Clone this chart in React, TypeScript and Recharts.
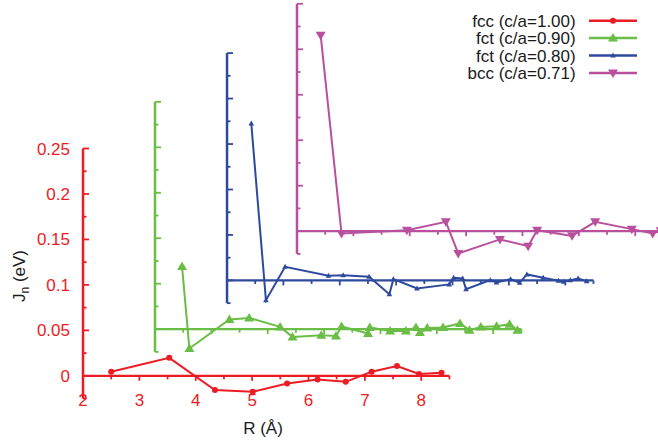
import React from 'react';
import { ComposedChart, Line, XAxis, YAxis, ReferenceLine, Legend } from 'recharts';

const FONT = '"Liberation Sans", Arial, Helvetica, sans-serif';

// R (Å) and J_n (eV) for each structure (own axes, before offset)
const fccR = [2.50, 3.53, 4.34, 5.01, 5.62, 6.16, 6.66, 7.12, 7.57, 7.96, 8.36];
const fccJ = [0.0044, 0.0198, -0.0157, -0.0176, -0.0084, -0.004, -0.0066, 0.0044, 0.0107, 0.002, 0.0033];

const fct90R = [2.48, 2.61, 3.32, 3.67, 4.22, 4.44, 4.95, 5.21, 5.31, 5.78, 5.81, 6.17, 6.45, 6.63, 6.70, 6.83, 7.11, 7.41, 7.58, 7.78, 8.06, 8.29, 8.43];
const fct90J = [0.069, -0.0212, 0.0107, 0.0124, 0.0025, -0.0085, -0.0066, -0.0074, 0.003, -0.0047, 0.0019, -0.0019, -0.0019, 0.0019, -0.0036, 0.0014, 0.0019, 0.0063, -0.0011, 0.0025, 0.0033, 0.0055, -0.0011];

const fct80R = [2.43, 2.69, 3.03, 3.80, 4.06, 4.52, 4.88, 4.95, 5.37, 5.94, 6.02, 6.18, 6.24, 6.67, 6.78, 7.03, 7.19, 7.32, 7.61, 7.88, 7.97, 8.09, 8.23, 8.38];
const fct80J = [0.1727, -0.0217, 0.015, 0.0051, 0.0058, 0.004, -0.0151, 0.0014, -0.0088, -0.0044, 0.0029, 0.0022, -0.0096, 0.0003, -0.0022, 0.0014, -0.0026, 0.0066, 0.0029, -0.0004, -0.0015, 0.0003, 0.0022, -0.0008];

const bccR = [2.42, 2.79, 3.95, 4.64, 4.86, 5.60, 6.10, 6.26, 6.88, 7.29, 7.94, 8.31, 8.45];
const bccJ = [0.2155, -0.0025, 0.0011, 0.0102, -0.0245, -0.0091, -0.0165, 0.0011, -0.0052, 0.0102, 0.0022, -0.0025, 0.0005];

const seriesNames = ['fcc (c/a=1.00)', 'fct (c/a=0.90)', 'fct (c/a=0.80)', 'bcc (c/a=0.71)'];
const seriesColors = ['#ec1c24', '#6abd45', '#2e4a9e', '#b9509e'];
// each curve is shifted right and up so the panels stack
const shiftR = [0, 1.277, 2.555, 3.796];
const shiftJ = [0, 0.0513, 0.1049, 0.1591];

const xTicks = [2, 3, 4, 5, 6, 7, 8];
const yTicks = [0, 0.05, 0.1, 0.15, 0.2, 0.25];

const X_DOMAIN: [number, number] = [2, 12.2];
const Y_DOMAIN: [number, number] = [-0.02, 0.41];
const AXIS_J = [-0.025, 0.25];
const AXIS_R = [2, 8.5];

const rawSeries = [
  { R: fccR, J: fccJ },
  { R: fct90R, J: fct90J },
  { R: fct80R, J: fct80J },
  { R: bccR, J: bccJ },
];
const seriesData = rawSeries.map((s, i) =>
  s.R.map((r, k) => ({ x: r + shiftR[i], y: s.J[k] + shiftJ[i] }))
);

const markers = [
  (cx: number, cy: number, c: string) => <circle cx={cx} cy={cy} r={3} fill={c} />,
  (cx: number, cy: number, c: string) => (
    <polygon points={`${cx},${cy - 5} ${cx - 5},${cy + 3.5} ${cx + 5},${cy + 3.5}`} fill={c} />
  ),
  (cx: number, cy: number, c: string) => (
    <polygon points={`${cx},${cy - 3} ${cx - 2.8},${cy + 2} ${cx + 2.8},${cy + 2}`} fill={c} />
  ),
  (cx: number, cy: number, c: string) => (
    <polygon points={`${cx},${cy + 5} ${cx - 5},${cy - 3.5} ${cx + 5},${cy - 3.5}`} fill={c} />
  ),
];

// vertical axis with ticks every 0.025 (longer on multiples of 0.05)
const vAxisShape = (color: string) => (p: any) => {
  const { x1, y1, x2, y2 } = p;
  const n = Math.round((AXIS_J[1] - AXIS_J[0]) / 0.025);
  const ticks = [];
  for (let k = 0; k <= n; k++) {
    const y = y1 + ((y2 - y1) * k) / n;
    const v = AXIS_J[0] + k * 0.025;
    const major = Math.abs(v / 0.05 - Math.round(v / 0.05)) < 1e-6;
    ticks.push(<line key={k} x1={x1} x2={x1 + (major ? 6 : 3.5)} y1={y} y2={y} strokeWidth={1.8} />);
  }
  return (
    <g stroke={color}>
      <line x1={x1} y1={y1} x2={x2} y2={y2} strokeWidth={2.5} />
      {ticks}
    </g>
  );
};

// horizontal baseline with ticks every 0.5 Å
const hAxisShape = (color: string) => (p: any) => {
  const { x1, y1, x2, y2 } = p;
  const n = Math.round((AXIS_R[1] - AXIS_R[0]) / 0.5);
  const ticks = [];
  for (let k = 0; k <= n; k++) {
    const x = x1 + ((x2 - x1) * k) / n;
    ticks.push(<line key={k} x1={x} x2={x} y1={y1} y2={y1 + (k % 2 === 0 ? 5 : 3.5)} strokeWidth={1.8} />);
  }
  return (
    <g stroke={color}>
      <line x1={x1} y1={y1} x2={x2} y2={y2} strokeWidth={2.2} />
      {ticks}
    </g>
  );
};

const renderLegend = () => (
  <svg width={215} height={85} style={{ display: 'block' }}>
    {seriesNames.map((name, i) => {
      const cy = 20.7 + 17.4 * i;
      const c = seriesColors[i];
      return (
        <g key={name}>
          <text x={135.7} y={cy + 6} textAnchor="end" fontSize={17} fill="#1a1a1a" fontFamily={FONT}>
            {name}
          </text>
          <line x1={149} x2={197} y1={cy} y2={cy} stroke={c} strokeWidth={2.5} />
          {markers[i](173, cy, c)}
        </g>
      );
    })}
  </svg>
);

const XTitle = () => (
  <text x={263} y={434} textAnchor="middle" fontSize={17} fill="#1a1a1a" fontFamily={FONT}>
    R (Å)
  </text>
);

const YTitle = () => (
  <text x={25} y={276} transform="rotate(-90 25 276)" textAnchor="middle" fontSize={17} fill="#1a1a1a" fontFamily={FONT}>
    J<tspan fontSize={12} dy={4}>n</tspan>
    <tspan dy={-4}> (eV)</tspan>
  </text>
);

export default function App() {
  return (
    <div style={{ position: 'absolute', left: 0, top: 0, width: 658, height: 444, background: '#fff', fontFamily: FONT }}>
      <ComposedChart width={658} height={444} margin={{ top: 3, right: 0, bottom: 0, left: 0 }}>
        <XAxis
          type="number"
          dataKey="x"
          domain={X_DOMAIN}
          ticks={xTicks}
          allowDataOverflow
          axisLine={false}
          tickLine={false}
          tickSize={0}
          tickMargin={0}
          height={50}
          tick={{ fill: seriesColors[0], fontSize: 17 }}
          label={{ value: 'R (Å)', content: XTitle }}
        />
        <YAxis
          type="number"
          dataKey="y"
          domain={Y_DOMAIN}
          ticks={yTicks}
          allowDataOverflow
          axisLine={false}
          tickLine={false}
          tickSize={10}
          tickMargin={3}
          width={83}
          tick={{ fill: seriesColors[0], fontSize: 17 }}
          label={{ value: 'Jn (eV)', content: YTitle }}
        />
        {seriesColors.map((c, i) => (
          <ReferenceLine
            key={'v' + i}
            ifOverflow="visible"
            segment={[
              { x: AXIS_R[0] + shiftR[i], y: AXIS_J[0] + shiftJ[i] },
              { x: AXIS_R[0] + shiftR[i], y: AXIS_J[1] + shiftJ[i] },
            ]}
            shape={vAxisShape(c)}
          />
        ))}
        {seriesColors.map((c, i) => (
          <ReferenceLine
            key={'h' + i}
            ifOverflow="visible"
            segment={[
              { x: AXIS_R[0] + shiftR[i], y: shiftJ[i] },
              { x: AXIS_R[1] + shiftR[i], y: shiftJ[i] },
            ]}
            shape={hAxisShape(c)}
          />
        ))}
        {seriesData.map((d, i) => (
          <Line
            key={seriesNames[i]}
            name={seriesNames[i]}
            data={d}
            dataKey="y"
            type="linear"
            stroke={seriesColors[i]}
            strokeWidth={2}
            dot={(p: any) => <g key={p.index}>{markers[i](p.cx, p.cy, seriesColors[i])}</g>}
            activeDot={false}
            isAnimationActive={false}
          />
        ))}
        <Legend
          layout="vertical"
          align="center"
          verticalAlign="middle"
          content={renderLegend}
          wrapperStyle={{ left: 440, top: 0, width: 215, height: 85 }}
        />
      </ComposedChart>
    </div>
  );
}
